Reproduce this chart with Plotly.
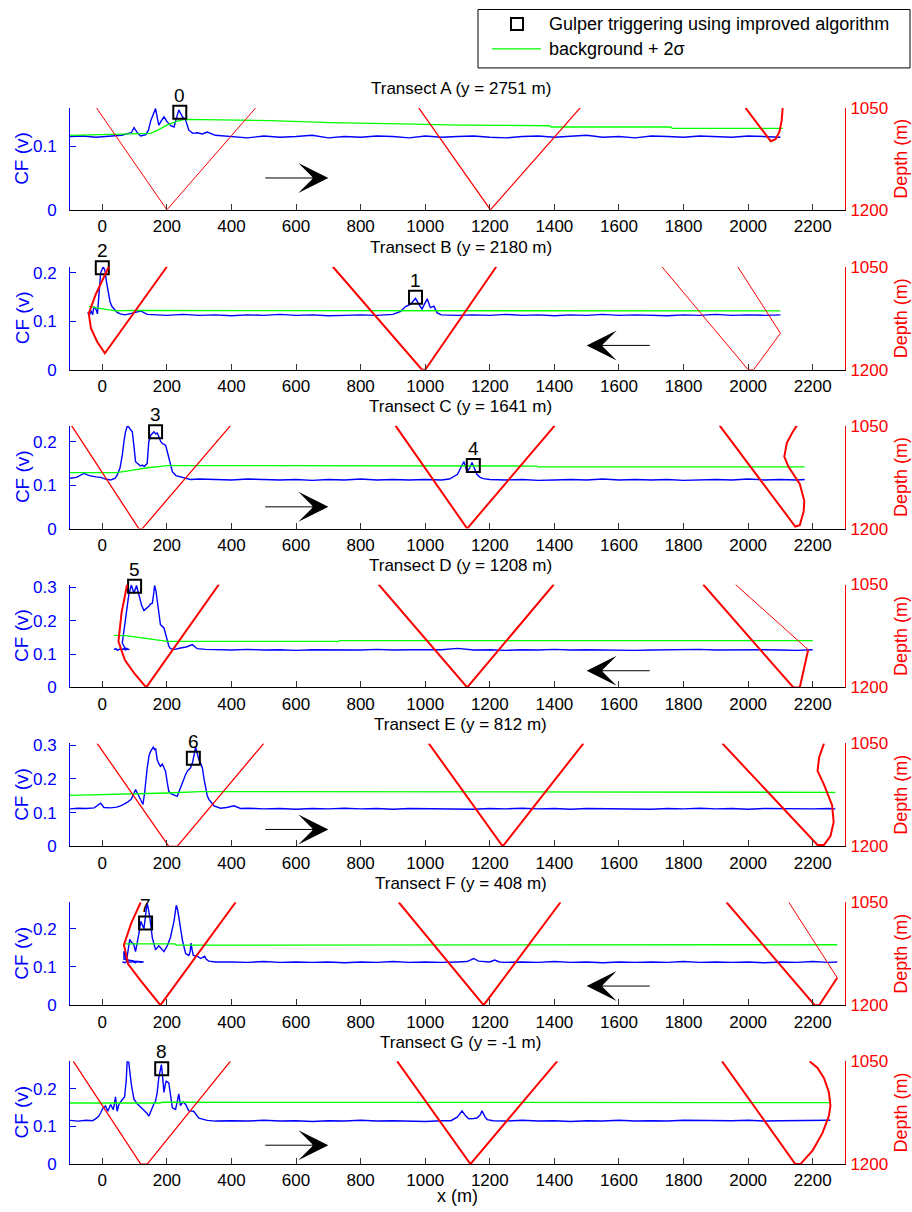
import plotly.graph_objects as go

FONT = "Liberation Sans, Arial, Helvetica, sans-serif"
W, H = 912, 1212

transects = ["A", "B", "C", "D", "E", "F", "G"]
titles = ["Transect A (y = 2751 m)", "Transect B (y = 2180 m)", "Transect C (y = 1641 m)",
          "Transect D (y = 1208 m)", "Transect E (y = 812 m)", "Transect F (y = 408 m)",
          "Transect G (y = -1 m)"]
directions = ["right", "left", "right", "left", "right", "left", "right"]
x_ticks = [0, 200, 400, 600, 800, 1000, 1200, 1400, 1600, 1800, 2000, 2200]
depth_ticks = [1050, 1200]
cf_ticks = {"A": [0, 0.1], "B": [0, 0.1, 0.2], "C": [0, 0.1, 0.2], "D": [0, 0.1, 0.2, 0.3],
            "E": [0, 0.1, 0.2, 0.3], "F": [0, 0.1, 0.2], "G": [0, 0.1, 0.2]}
cf_max = {"A": 0.16, "B": 0.212, "C": 0.237, "D": 0.308, "E": 0.305, "F": 0.269, "G": 0.273}

# ---------------- CF (blue) ----------------
cf_x_A = [-100, -60, -20, 20, 60, 90, 98, 110, 119, 135, 143, 150, 158, 165, 170, 175, 183, 191, 201, 212,
          222, 230, 237, 242, 248, 258, 268, 280, 294, 310, 325, 350,
          400, 450, 500, 550, 600, 650, 700, 750, 800, 850, 900, 950, 1000, 1050, 1100, 1150, 1200, 1250,
          1300, 1350, 1400, 1450, 1500, 1550, 1600, 1650, 1700, 1750, 1800, 1850, 1900, 1950, 2000, 2050, 2100]
cf_y_A = [0.115, 0.116, 0.114, 0.116, 0.117, 0.121, 0.129, 0.120, 0.116, 0.118, 0.125, 0.140, 0.150, 0.159,
          0.145, 0.133, 0.140, 0.146, 0.138, 0.132, 0.130, 0.145, 0.157, 0.152, 0.146, 0.141, 0.125, 0.120,
          0.121, 0.119, 0.122, 0.117,
          0.115, 0.113, 0.116, 0.114, 0.115, 0.117, 0.113, 0.115, 0.114, 0.116, 0.115, 0.113, 0.116, 0.114,
          0.115, 0.116, 0.114, 0.113, 0.115, 0.116, 0.114, 0.115, 0.117, 0.114, 0.115, 0.113, 0.116, 0.115,
          0.114, 0.116, 0.115, 0.114, 0.116, 0.115, 0.114]

cf_x_B = [-45, -40, -35, -30, -26, -20, -15, -12, -5, 3, 8, 13, 18, 24, 30, 36, 46, 56, 70, 90, 105, 119, 130,
          140, 170,
          200, 250, 300, 350, 400, 450, 500, 550, 600, 650, 700, 750, 800, 850, 900,
          924, 939, 955, 970, 980, 990, 1006, 1016, 1027, 1037, 1050,
          1100, 1150, 1200, 1250, 1300, 1350, 1400, 1450, 1500, 1550, 1600, 1650, 1700, 1750, 1800, 1850,
          1900, 1950, 2000, 2050, 2100]
cf_y_B = [0.118, 0.112, 0.122, 0.113, 0.130, 0.125, 0.115, 0.140, 0.200, 0.212, 0.205, 0.181, 0.160, 0.140,
          0.130, 0.125, 0.118, 0.115, 0.113, 0.116, 0.118, 0.121, 0.117, 0.114, 0.113,
          0.112, 0.114, 0.112, 0.113, 0.111, 0.113, 0.112, 0.114, 0.112, 0.113, 0.111, 0.112, 0.113, 0.112,
          0.114,
          0.120, 0.130, 0.135, 0.147, 0.135, 0.125, 0.146, 0.128, 0.131, 0.117, 0.113,
          0.112, 0.113, 0.112, 0.114, 0.112, 0.113, 0.111, 0.113, 0.112, 0.114, 0.112, 0.113, 0.112, 0.111,
          0.113, 0.112, 0.114, 0.112, 0.113, 0.112, 0.113]

cf_x_C = [-100, -80, -57, -40, -20, -5, 10, 26, 40, 46, 55, 62, 67, 72, 77, 82, 87, 93, 98, 103, 112, 118,
          124, 130, 139, 144, 150, 160, 165, 170, 176, 181, 188, 196, 201, 206, 212, 217, 228, 242, 258, 273,
          300,
          350, 400, 450, 500, 550, 600, 650, 700, 750, 800, 850, 900, 950, 1000, 1050,
          1075, 1088, 1100, 1110, 1120, 1130, 1138, 1145, 1152, 1160, 1170, 1180, 1200,
          1250, 1300, 1350, 1400, 1450, 1500, 1550, 1600, 1650, 1700, 1750, 1800, 1850, 1900, 1950, 2000,
          2050, 2100, 2150, 2175]
cf_y_C = [0.116, 0.118, 0.127, 0.122, 0.119, 0.118, 0.114, 0.112, 0.116, 0.123, 0.140, 0.169, 0.200, 0.223,
          0.235, 0.234, 0.228, 0.223, 0.190, 0.154, 0.148, 0.144, 0.146, 0.143, 0.150, 0.200, 0.215, 0.223,
          0.218, 0.220, 0.210, 0.200, 0.195, 0.192, 0.178, 0.162, 0.145, 0.131, 0.122, 0.119, 0.115, 0.113,
          0.114,
          0.113, 0.112, 0.114, 0.113, 0.112, 0.113, 0.111, 0.113, 0.112, 0.114, 0.112, 0.113, 0.112, 0.113,
          0.112,
          0.114, 0.120, 0.125, 0.140, 0.154, 0.131, 0.140, 0.152, 0.138, 0.125, 0.118, 0.115, 0.113,
          0.112, 0.113, 0.111, 0.112, 0.113, 0.112, 0.114, 0.112, 0.113, 0.112, 0.113, 0.111, 0.112, 0.113,
          0.112, 0.114, 0.112, 0.113, 0.112, 0.113]

cf_x_D = [36, 42, 48, 54, 60, 66, 72, 78, 84, 70, 62, 67, 72, 77, 82, 90, 94, 98, 106, 111, 116, 122, 129,
          136, 144, 150, 155, 159, 162, 166, 170, 175, 180, 186, 191, 196, 201, 206, 211, 225, 242, 260,
          279, 287, 294, 320,
          350, 400, 450, 500, 550, 600, 650, 700, 750, 800, 850, 900, 950, 1000, 1050, 1100, 1150, 1200,
          1250, 1300, 1350, 1400, 1450, 1500, 1550, 1600, 1650, 1700, 1750, 1800, 1850, 1900, 1950, 2000,
          2050, 2100, 2150, 2200]
cf_y_D = [0.113, 0.116, 0.111, 0.115, 0.112, 0.116, 0.112, 0.115, 0.113, 0.118, 0.133, 0.170, 0.207, 0.245,
          0.277, 0.307, 0.290, 0.282, 0.305, 0.285, 0.267, 0.245, 0.230, 0.235, 0.243, 0.250, 0.252, 0.280,
          0.305, 0.290, 0.267, 0.225, 0.188, 0.182, 0.178, 0.160, 0.138, 0.124, 0.116, 0.114, 0.118, 0.121,
          0.128, 0.122, 0.116, 0.114,
          0.113, 0.112, 0.114, 0.112, 0.113, 0.111, 0.113, 0.112, 0.113, 0.112, 0.114, 0.112, 0.113, 0.112,
          0.113, 0.117, 0.112, 0.113, 0.111, 0.113, 0.112, 0.114, 0.112, 0.113, 0.112, 0.113, 0.111, 0.112,
          0.113, 0.112, 0.114, 0.112, 0.113, 0.112, 0.113, 0.112, 0.111, 0.113]

cf_x_E = [-100, -75, -50, -25, -5, 5, 25, 45, 60, 77, 90, 103, 110, 116, 126, 131, 135, 139, 145, 150, 158,
          162, 165, 170, 175, 180, 186, 191, 196, 201, 206, 214, 222, 232, 242, 250, 258, 265, 273, 280,
          289, 294, 299, 305, 310, 315, 320, 325, 330, 346, 366, 385, 408, 428, 450,
          500, 550, 600, 650, 700, 750, 800, 850, 900, 950, 1000, 1050, 1100, 1150, 1200, 1250, 1300, 1350,
          1400, 1450, 1500, 1550, 1600, 1650, 1700, 1750, 1800, 1850, 1900, 1950, 2000, 2050, 2100, 2150,
          2200, 2250, 2270]
cf_y_E = [0.111, 0.113, 0.112, 0.114, 0.128, 0.115, 0.114, 0.116, 0.121, 0.130, 0.140, 0.168, 0.155, 0.145,
          0.124, 0.158, 0.200, 0.232, 0.270, 0.282, 0.294, 0.287, 0.290, 0.257, 0.245, 0.237, 0.244, 0.232,
          0.222, 0.190, 0.163, 0.155, 0.151, 0.148, 0.173, 0.195, 0.213, 0.225, 0.232, 0.250, 0.294, 0.275,
          0.257, 0.245, 0.232, 0.200, 0.173, 0.150, 0.139, 0.120, 0.113, 0.115, 0.120, 0.112, 0.113,
          0.111, 0.112, 0.110, 0.112, 0.111, 0.113, 0.111, 0.112, 0.110, 0.112, 0.111, 0.112, 0.111, 0.110,
          0.112, 0.111, 0.113, 0.111, 0.112, 0.110, 0.112, 0.111, 0.112, 0.111, 0.110, 0.112, 0.111, 0.113,
          0.111, 0.112, 0.110, 0.112, 0.111, 0.112, 0.111, 0.112, 0.111]

cf_x_F = [62, 70, 78, 86, 94, 102, 110, 118, 128, 100, 67, 67, 75, 85, 90, 97, 103, 108, 114, 119, 124, 129,
          134, 139, 143, 147, 155, 160, 165, 175, 183, 191, 201, 211, 217, 222, 229, 233, 237, 243, 248,
          258, 268, 272, 275, 278, 282, 294, 305, 317, 322, 330, 350,
          400, 450, 500, 550, 600, 650, 700, 750, 800, 850, 900, 950, 1000, 1050, 1100,
          1130, 1150, 1165, 1200, 1215, 1230,
          1250, 1300, 1350, 1400, 1450, 1500, 1550, 1600, 1650, 1700, 1750, 1800, 1850, 1900, 1950, 2000,
          2050, 2100, 2150, 2200, 2250, 2276]
cf_y_F = [0.113, 0.111, 0.115, 0.112, 0.114, 0.111, 0.114, 0.112, 0.113, 0.115, 0.120, 0.141, 0.115, 0.172,
          0.165, 0.160, 0.140, 0.160, 0.190, 0.219, 0.210, 0.200, 0.235, 0.267, 0.250, 0.230, 0.176, 0.160,
          0.145, 0.155, 0.147, 0.140, 0.155, 0.177, 0.200, 0.219, 0.261, 0.250, 0.230, 0.200, 0.170, 0.135,
          0.130, 0.140, 0.162, 0.145, 0.130, 0.128, 0.122, 0.128, 0.120, 0.115, 0.113,
          0.113, 0.112, 0.114, 0.112, 0.113, 0.112, 0.113, 0.111, 0.113, 0.112, 0.114, 0.112, 0.113, 0.112,
          0.113,
          0.114, 0.122, 0.115, 0.113, 0.118, 0.113,
          0.112, 0.113, 0.112, 0.114, 0.112, 0.113, 0.111, 0.113, 0.112, 0.113, 0.112, 0.114, 0.112, 0.113,
          0.112, 0.113, 0.111, 0.113, 0.112, 0.114, 0.112, 0.113]

cf_x_G = [-100, -75, -50, -30, -21, -12, -5, 2, 10, 17, 26, 34, 41, 46, 52, 57, 63, 69, 74, 77, 82, 86, 90,
          98, 108, 118, 129, 138, 144, 150, 155, 160, 165, 170, 175, 180, 183, 187, 191, 195, 198, 206, 212,
          217, 227, 233, 237, 242, 250, 258, 268, 283, 292, 299, 325, 350,
          400, 450, 500, 550, 600, 650, 700, 750, 800, 850, 900, 950, 1000, 1050,
          1080, 1100, 1114, 1125, 1135, 1150, 1160, 1170, 1176, 1185, 1192, 1210,
          1250, 1300, 1350, 1400, 1450, 1500, 1550, 1600, 1650, 1700, 1750, 1800, 1850, 1900, 1950, 2000,
          2050, 2100, 2150, 2200, 2250, 2255]
cf_y_G = [0.116, 0.114, 0.116, 0.115, 0.120, 0.126, 0.136, 0.148, 0.154, 0.140, 0.158, 0.144, 0.178, 0.140,
          0.160, 0.167, 0.172, 0.178, 0.220, 0.273, 0.270, 0.240, 0.211, 0.172, 0.160, 0.152, 0.143, 0.135,
          0.127, 0.140, 0.154, 0.160, 0.167, 0.190, 0.229, 0.255, 0.264, 0.230, 0.190, 0.210, 0.220, 0.215,
          0.180, 0.149, 0.145, 0.165, 0.186, 0.155, 0.165, 0.158, 0.141, 0.140, 0.130, 0.122, 0.116, 0.114,
          0.115, 0.114, 0.116, 0.114, 0.115, 0.113, 0.115, 0.114, 0.116, 0.114, 0.115, 0.114, 0.113, 0.115,
          0.115, 0.125, 0.141, 0.128, 0.120, 0.121, 0.122, 0.130, 0.141, 0.125, 0.118, 0.115,
          0.114, 0.116, 0.114, 0.115, 0.113, 0.115, 0.114, 0.116, 0.114, 0.115, 0.114, 0.116, 0.115, 0.114,
          0.115, 0.116, 0.114, 0.115, 0.116, 0.115, 0.116, 0.116]

# ---------------- background + 2 sigma (green) ----------------
bg_x_A = [-100, 100, 150, 175, 200, 230, 255, 520, 707, 924, 1110, 1385, 1390, 1760, 1765, 2107]
bg_y_A = [0.117, 0.119, 0.120, 0.126, 0.133, 0.139, 0.142, 0.140, 0.137, 0.135, 0.133, 0.132, 0.130, 0.130,
          0.128, 0.128]
bg_x_B = [-41, -20, 0, 20, 41, 100, 500, 1000, 1050, 2100]
bg_y_B = [0.130, 0.128, 0.126, 0.123, 0.121, 0.122, 0.122, 0.122, 0.121, 0.121]
bg_x_C = [-100, 45, 90, 140, 202, 444, 450, 1345, 1350, 2175]
bg_y_C = [0.129, 0.129, 0.134, 0.140, 0.145, 0.145, 0.144, 0.144, 0.142, 0.142]
bg_x_D = [36, 70, 100, 150, 201, 730, 735, 2200]
bg_y_D = [0.156, 0.155, 0.151, 0.144, 0.138, 0.138, 0.140, 0.140]
bg_x_E = [-100, 100, 200, 304, 1180, 1185, 2270]
bg_y_E = [0.151, 0.155, 0.158, 0.162, 0.162, 0.160, 0.160]
bg_x_F = [67, 225, 230, 1130, 1135, 2276]
bg_y_F = [0.160, 0.160, 0.157, 0.157, 0.158, 0.158]
bg_x_G = [-100, 180, 185, 933, 938, 2255]
bg_y_G = [0.162, 0.162, 0.164, 0.164, 0.163, 0.163]

# ---------------- depth (red), one list per dive ----------------
depth_x_A = [[-18, 200, 475], [980, 1202, 1480], [1992, 2040, 2070, 2085, 2097, 2104, 2107]]
depth_y_A = [[1050, 1200, 1050], [1050, 1200, 1050], [1050, 1080, 1099, 1096, 1085, 1068, 1050]]
depth_x_B = [[20, -20, -42, -35, -15, 8, 200], [714, 990, 1000, 1220], [1733, 2000, 2017, 2100, 1968]]
depth_y_B = [[1050, 1090, 1118, 1140, 1160, 1176, 1050], [1050, 1200, 1200, 1050],
             [1050, 1200, 1200, 1147, 1050]]
depth_x_C = [[-95, 113, 124, 397], [908, 1130, 1401],
             [1912, 2146, 2160, 2172, 2174, 2160, 2125, 2112, 2120, 2137, 2151]]
depth_y_C = [[1050, 1200, 1200, 1050], [1050, 1200, 1050],
             [1050, 1197, 1195, 1175, 1160, 1135, 1110, 1095, 1075, 1060, 1050]]
depth_x_D = [[77, 60, 50, 70, 100, 136, 361], [856, 1130, 1398], [1861, 2140, 2160, 2186], [2186, 1961]]
depth_y_D = [[1050, 1090, 1133, 1160, 1180, 1200, 1050], [1050, 1200, 1050], [1050, 1200, 1200, 1145],
             [1145, 1050]]
depth_x_E = [[-16, 206, 232, 500], [1011, 1240, 1490],
             [1920, 2215, 2235, 2255, 2265, 2260, 2235, 2215, 2220, 2235]]
depth_y_E = [[1050, 1200, 1200, 1050], [1050, 1200, 1050],
             [1050, 1198, 1198, 1185, 1165, 1140, 1110, 1090, 1070, 1050]]
depth_x_F = [[119, 90, 67, 80, 120, 180, 413], [918, 1181, 1419], [1933, 2206, 2220, 2276], [2276, 2126]]
depth_y_F = [[1050, 1080, 1112, 1140, 1165, 1200, 1050], [1050, 1200, 1050], [1050, 1200, 1200, 1160],
             [1160, 1050]]
depth_x_G = [[-90, 119, 139, 397], [913, 1140, 1409],
             [1919, 2146, 2162, 2200, 2230, 2250, 2255, 2250, 2235, 2215, 2190]]
depth_y_G = [[1050, 1200, 1200, 1050], [1050, 1200, 1050],
             [1050, 1200, 1200, 1180, 1155, 1130, 1115, 1095, 1075, 1060, 1050]]

# ---------------- gulper triggers ----------------
trig_x = {"A": [240], "B": [0, 970], "C": [165, 1149], "D": [100], "E": [282], "F": [134], "G": [184]}
trig_y = {"A": [0.153], "B": [0.21, 0.149], "C": [0.223, 0.145], "D": [0.303], "E": [0.261],
          "F": [0.215], "G": [0.2526]}
trig_lab = {"A": ["0"], "B": ["2", "1"], "C": ["3", "4"], "D": ["5"], "E": ["6"], "F": ["7"], "G": ["8"]}

cf_x = dict(A=cf_x_A, B=cf_x_B, C=cf_x_C, D=cf_x_D, E=cf_x_E, F=cf_x_F, G=cf_x_G)
cf_y = dict(A=cf_y_A, B=cf_y_B, C=cf_y_C, D=cf_y_D, E=cf_y_E, F=cf_y_F, G=cf_y_G)
bg_x = dict(A=bg_x_A, B=bg_x_B, C=bg_x_C, D=bg_x_D, E=bg_x_E, F=bg_x_F, G=bg_x_G)
bg_y = dict(A=bg_y_A, B=bg_y_B, C=bg_y_C, D=bg_y_D, E=bg_y_E, F=bg_y_F, G=bg_y_G)
dp_x = dict(A=depth_x_A, B=depth_x_B, C=depth_x_C, D=depth_x_D, E=depth_x_E, F=depth_x_F, G=depth_x_G)
dp_y = dict(A=depth_y_A, B=depth_y_B, C=depth_y_C, D=depth_y_D, E=depth_y_E, F=depth_y_F, G=depth_y_G)
for k in transects:
    assert len(cf_x[k]) == len(cf_y[k]), (k, len(cf_x[k]), len(cf_y[k]))
    assert len(bg_x[k]) == len(bg_y[k]), k
    for a, b in zip(dp_x[k], dp_y[k]):
        assert len(a) == len(b), k

# line widths of the dives (style)
dive_width = {"A": [1, 1.3, 2], "B": [2, 2, 1], "C": [1.3, 2, 2], "D": [2, 2, 2, 1],
              "E": [1.3, 2, 2], "F": [2, 2, 2, 1], "G": [1.3, 2, 2]}

# ---------------- layout geometry (target pixels in the picture) ----------------
PX0, PX1 = 70, 845
tops = [106, 265, 424, 583, 742, 901, 1060]
bots = [208, 368, 527, 686, 845, 1004, 1163]
BLUE, RED, GREEN = "#0000FF", "#FF0000", "#00FF00"

# the captured picture shows the page rows slightly squeezed: row r of the page lands at
# about 8 + (r - 1) * 0.98512; invert that so the target rows are hit.
V_OFF, V_SCALE = 8.0, 0.98512

fig = go.Figure()
layout = {}
annotations = []
shapes = []


def fx(px):
    return px / W


def fy(py):
    page_row = 1 + (py - V_OFF) / V_SCALE
    page_row = min(max(page_row, 0.5), H - 0.5)
    return 1 - page_row / H


for i, k in enumerate(transects):
    n = i + 1
    xid = "x" if n == 1 else f"x{n}"
    ya_id = "y" if n == 1 else f"y{2 * n - 1}"
    yb_id = f"y{2 * n}"
    xkey = "xaxis" if n == 1 else f"xaxis{n}"
    yakey = "yaxis" if n == 1 else f"yaxis{2 * n - 1}"
    ybkey = f"yaxis{2 * n}"
    dom = [fy(bots[i]), fy(tops[i])]

    layout[xkey] = dict(domain=[fx(PX0), fx(PX1)], anchor=ya_id, range=[-100, 2300],
                        tickvals=x_ticks, ticktext=[str(v) for v in x_ticks],
                        ticks="inside", ticklen=6, tickcolor="#333", showline=True, linecolor="black",
                        linewidth=1, showgrid=False, zeroline=False, ticklabelstandoff=1,
                        tickfont=dict(family=FONT, size=17, color="black"))
    layout[yakey] = dict(domain=dom, anchor=xid, range=[0, cf_max[k]], tickvals=cf_ticks[k],
                         ticktext=[("0" if v == 0 else f"{v:g}") for v in cf_ticks[k]],
                         ticks="inside", ticklen=6, tickcolor=BLUE, showline=True, linecolor=BLUE,
                         linewidth=1, showgrid=False, zeroline=False, ticklabelstandoff=9,
                         tickfont=dict(family=FONT, size=17, color=BLUE))
    layout[ybkey] = dict(overlaying=ya_id, anchor=xid, side="right", range=[1200, 1050],
                         tickvals=depth_ticks, ticktext=[str(v) for v in depth_ticks],
                         ticks="inside", ticklen=6, tickcolor=RED, showline=True, linecolor=RED,
                         linewidth=1, showgrid=False, zeroline=False, ticklabelstandoff=1,
                         tickfont=dict(family=FONT, size=17, color=RED))

    fig.add_trace(go.Scatter(x=cf_x[k], y=cf_y[k], xaxis=xid, yaxis=ya_id, mode="lines",
                             line=dict(color=BLUE, width=1.4), showlegend=False, hoverinfo="skip"))
    fig.add_trace(go.Scatter(x=bg_x[k], y=bg_y[k], xaxis=xid, yaxis=ya_id, mode="lines",
                             line=dict(color=GREEN, width=1.3), showlegend=False, hoverinfo="skip"))
    for j, (sx, sy) in enumerate(zip(dp_x[k], dp_y[k])):
        fig.add_trace(go.Scatter(x=sx, y=sy, xaxis=xid, yaxis=yb_id, mode="lines",
                                 line=dict(color=RED, width=dive_width[k][j]),
                                 showlegend=False, hoverinfo="skip"))
    fig.add_trace(go.Scatter(x=trig_x[k], y=trig_y[k], xaxis=xid, yaxis=ya_id,
                             mode="markers", cliponaxis=False,
                             marker=dict(symbol="square-open", size=13, color="black",
                                         line=dict(width=2, color="black")),
                             showlegend=False, hoverinfo="skip"))
    for tx, ty, tl in zip(trig_x[k], trig_y[k], trig_lab[k]):
        annotations.append(dict(text=tl, x=tx, y=ty, xref=xid, yref=ya_id, yshift=17,
                                xanchor="center", yanchor="middle", showarrow=False,
                                font=dict(family=FONT, size=19, color="black")))

    # title
    annotations.append(dict(text=titles[i], xref="paper", yref="paper", x=fx((PX0 + PX1) / 2 + 3),
                            y=fy(tops[i] - 19), xanchor="center", yanchor="middle", showarrow=False,
                            font=dict(family=FONT, size=17, color="black")))
    # axis titles
    mid = (tops[i] + bots[i]) / 2
    annotations.append(dict(text="CF (v)", xref="paper", yref="paper", x=fx(22), y=fy(mid),
                            textangle=-90, xanchor="center", yanchor="middle", showarrow=False,
                            font=dict(family=FONT, size=19, color=BLUE)))
    annotations.append(dict(text="Depth (m)", xref="paper", yref="paper", x=fx(901), y=fy(mid),
                            textangle=-90, xanchor="center", yanchor="middle", showarrow=False,
                            font=dict(family=FONT, size=18, color=RED)))
    # direction arrow
    if directions[i] == "right":
        head, tail = 700, 500
    else:
        head, tail = 1500, 1700
    annotations.append(dict(text="", x=head, y=0.05, ax=tail, ay=0.05, xref=xid, yref=ya_id,
                            axref=xid, ayref=ya_id, showarrow=True, arrowhead=3, arrowsize=5,
                            arrowwidth=1, arrowcolor="black"))

annotations.append(dict(text="x (m)", xref="paper", yref="paper", x=fx(457), y=fy(1195),
                        xanchor="center", yanchor="middle", showarrow=False,
                        font=dict(family=FONT, size=18, color="black")))

# legend (drawn manually)
shapes.append(dict(type="rect", xref="paper", yref="paper", x0=fx(478), x1=fx(910), y0=fy(66), y1=fy(1),
                   line=dict(color="black", width=1), fillcolor="white", layer="above"))
shapes.append(dict(type="rect", xref="paper", yref="paper", x0=fx(511), x1=fx(523), y0=fy(28), y1=fy(16),
                   line=dict(color="black", width=2), layer="above"))
shapes.append(dict(type="line", xref="paper", yref="paper", x0=fx(492), x1=fx(541), y0=fy(47), y1=fy(47),
                   line=dict(color=GREEN, width=1.3), layer="above"))
annotations.append(dict(text="Gulper triggering using improved algorithm", xref="paper", yref="paper",
                        x=fx(547), y=fy(22), xanchor="left", yanchor="middle", showarrow=False,
                        font=dict(family=FONT, size=18, color="black")))
annotations.append(dict(text="background + 2σ", xref="paper", yref="paper",
                        x=fx(547), y=fy(47), xanchor="left", yanchor="middle", showarrow=False,
                        font=dict(family=FONT, size=18, color="black")))

fig.update_layout(width=W, height=H, margin=dict(l=0, r=0, t=0, b=0, pad=0),
                  paper_bgcolor="white", plot_bgcolor="white", showlegend=False,
                  annotations=annotations, shapes=shapes, **layout)
fig.write_html("out.html", config={"displayModeBar": False},
               post_script="document.body.style.margin='0';document.body.style.padding='0';"
                           "document.body.style.overflow='hidden';"
                           "document.documentElement.style.overflow='hidden';")
